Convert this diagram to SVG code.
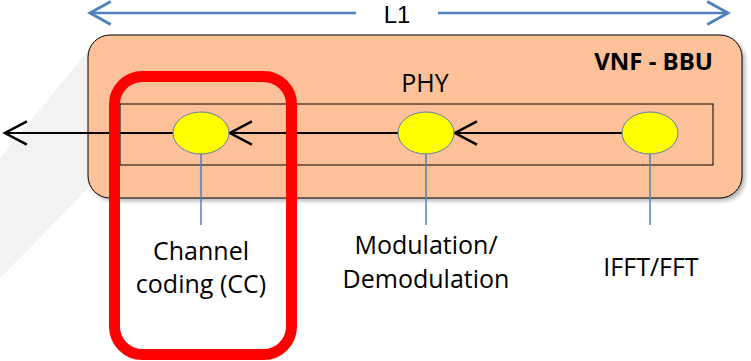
<svg xmlns="http://www.w3.org/2000/svg" width="751" height="361" viewBox="0 0 751 361">
  <defs>
    <marker id="arrBlack" markerUnits="userSpaceOnUse" markerWidth="30" markerHeight="30" viewBox="-22 -13 26 26" refX="0" refY="0" orient="auto" overflow="visible">
      <path d="M-19,-10 L0,0 L-19,10" fill="none" stroke="#000" stroke-width="2.2"/>
    </marker>
    <marker id="arrBlue" markerUnits="userSpaceOnUse" markerWidth="30" markerHeight="30" viewBox="-22 -13 26 26" refX="0" refY="0" orient="auto" overflow="visible">
      <path d="M-18,-10 L0,0 L-18,10" fill="none" stroke="#4F81BD" stroke-width="2.5"/>
    </marker>
    <filter id="shadow" x="-5%" y="-5%" width="112%" height="115%">
      <feGaussianBlur stdDeviation="2"/>
    </filter>
  </defs>
  <style>
    .lbl { font-family: "Open Sans", "Liberation Sans", sans-serif; font-size: 25px; fill: #000; }
    .bold { font-family: "Open Sans", "Liberation Sans", sans-serif; font-size: 24px; font-weight: bold; fill: #000; }
    .top { font-family: "Liberation Sans", "Open Sans", sans-serif; font-size: 24px; fill: #000; }
    .node { fill: #FFFF00; stroke: #5B7FA8; stroke-width: 1; }
    .flow { stroke: #000; stroke-width: 2.2; fill: none; marker-end: url(#arrBlack); }
    .stem { stroke: #4F81BD; stroke-width: 1.5; }
    .dim { stroke: #4F81BD; stroke-width: 2.5; fill: none; marker-end: url(#arrBlue); }
  </style>

  <rect width="751" height="361" fill="#FFFFFF"/>
  <polygon points="0,158 100,36 100,176 0,278" fill="#F2F2F2"/>

  <g id="vnf-bbu">
    <rect x="91" y="38" width="654" height="163" rx="22" fill="#7F7F7F" opacity="0.6" filter="url(#shadow)"/>
    <rect x="88" y="35" width="654" height="163" rx="22" fill="#FCC198" stroke="#000" stroke-width="1"/>
    <text class="bold" x="713" y="70" text-anchor="end">VNF - BBU</text>
  </g>

  <g id="phy">
    <rect x="120" y="104" width="593" height="61" fill="none" stroke="#000" stroke-width="1"/>
    <text class="lbl" x="425" y="92" text-anchor="middle">PHY</text>
  </g>

  <g id="l1">
    <text class="top" x="397" y="23" text-anchor="middle">L1</text>
  </g>

  <g id="connectors">
    <line class="dim" x1="356" y1="13" x2="90" y2="13"/>
    <line class="dim" x1="438" y1="13" x2="728" y2="13"/>
    <line class="flow" x1="622" y1="133" x2="455" y2="133"/>
    <line class="flow" x1="398" y1="133" x2="230" y2="133"/>
    <line class="flow" x1="173" y1="133" x2="5" y2="133"/>
    <line class="stem" x1="201" y1="154" x2="201" y2="225"/>
    <line class="stem" x1="426" y1="154" x2="426" y2="225"/>
    <line class="stem" x1="650" y1="154" x2="650" y2="225"/>
  </g>

  <g id="channel-coding">
    <ellipse class="node" cx="201" cy="133" rx="28" ry="21"/>
    <text class="lbl" x="201" y="260" text-anchor="middle">Channel</text>
    <text class="lbl" x="201" y="293" text-anchor="middle">coding (CC)</text>
  </g>

  <g id="modulation">
    <ellipse class="node" cx="426" cy="133" rx="28" ry="21"/>
    <text class="lbl" x="426" y="254" text-anchor="middle">Modulation/</text>
    <text class="lbl" x="426" y="288" text-anchor="middle">Demodulation</text>
  </g>

  <g id="ifft-fft">
    <ellipse class="node" cx="650" cy="133" rx="28" ry="21"/>
    <text class="lbl" x="651" y="276" text-anchor="middle">IFFT/FFT</text>
  </g>

  <g id="highlight">
    <rect x="114.5" y="76.5" width="177" height="278" rx="28" fill="none" stroke="#FF0000" stroke-width="11"/>
  </g>
</svg>
